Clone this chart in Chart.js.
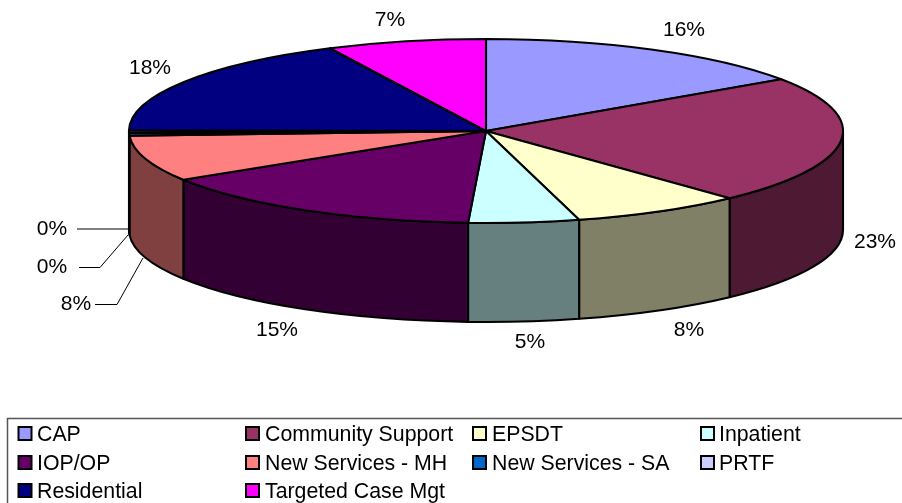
<!DOCTYPE html>
<html><head><meta charset="utf-8">
<style>html,body{margin:0;padding:0;background:#fff;overflow:hidden}canvas{display:block}</style>
<script src="https://cdn.jsdelivr.net/npm/chart.js@4"></script>
</head><body>
<canvas id="c" width="902" height="503"></canvas>
<script>
const categories = ["CAP","Community Support","EPSDT","Inpatient","IOP/OP","New Services - MH","New Services - SA","PRTF","Residential","Targeted Case Mgt"];
const shares = [15.5,22.55,7.75,5.0,15.3,8.1,0.45,0.45,17.7,7.2];
const topColors = ["#9999FF","#993366","#FFFFCC","#CCFFFF","#660066","#FF8080","#0066CC","#CCCCFF","#000080","#FF00FF"];
const sideColors = ["#4D4D80","#4D1933","#808066","#668080","#330033","#804040","#003366","#666680","#000040","#800080"];

const SQUASH = 92/357, DEPTH = 99, FONT = '"Liberation Sans", Arial, sans-serif';
const labelSpots = [[684,30],[875,242],[689,330],[530,342],[277,330],[76,304],[52,267],[52,229],[150,68],[390,20]];
const leaders = {5:[[95,304.5],[117,304.5],[143,258]],6:[[79,267.5],[100,267.5],[128,235]],7:[[77,229],[128,229]]};
const legendCols = [[17.5,37],[245,265],[472,492],[700,719]];
const legendRows = [441,470,498];

const pie3d = {
  id:'pie3d',
  beforeDatasetsDraw(chart){
    const ctx = chart.ctx, arcs = chart.getDatasetMeta(0).data;
    ctx.save();
    ctx.lineWidth = 2.1; ctx.strokeStyle = '#000'; ctx.lineJoin = 'round';
    const shaped = (el, build) => {
      ctx.beginPath(); ctx.save();
      ctx.translate(el.x, el.y); ctx.scale(1, SQUASH);
      build(el.outerRadius); ctx.restore();
    };
    arcs.forEach((el,i)=>{
      const a = Math.max(el.startAngle,0), b = Math.min(el.endAngle,Math.PI);
      if (b <= a) return;
      shaped(el, r=>{ ctx.arc(0,0,r,a,b); ctx.arc(0,DEPTH/SQUASH,r,b,a,true); ctx.closePath(); });
      ctx.fillStyle = sideColors[i]; ctx.fill(); ctx.stroke();
    });
    arcs.forEach((el,i)=>{
      shaped(el, r=>{ ctx.moveTo(0,0); ctx.arc(0,0,r,el.startAngle,el.endAngle); ctx.closePath(); });
      ctx.fillStyle = topColors[i]; ctx.fill(); ctx.stroke();
    });
    ctx.restore();
    return false;
  },
  afterDraw(chart){
    const ctx = chart.ctx, total = shares.reduce((s,v)=>s+v,0);
    ctx.save();
    ctx.strokeStyle = '#000'; ctx.lineWidth = 1;
    Object.values(leaders).forEach(pts=>{
      ctx.beginPath(); pts.forEach((p,i)=> i?ctx.lineTo(p[0],p[1]):ctx.moveTo(p[0],p[1])); ctx.stroke();
    });
    ctx.fillStyle = '#000'; ctx.textAlign='center'; ctx.textBaseline='middle';
    ctx.font = '21px '+FONT;
    shares.forEach((v,i)=> ctx.fillText(Math.round(v/total*100)+'%', labelSpots[i][0], labelSpots[i][1]));
    ctx.strokeStyle = '#555'; ctx.lineWidth = 1.5;
    ctx.beginPath(); ctx.moveTo(7.5,510); ctx.lineTo(7.5,418.5); ctx.lineTo(910,418.5); ctx.stroke();
    ctx.textAlign='left'; ctx.textBaseline='alphabetic'; ctx.font='21.3px '+FONT;
    categories.forEach((name,i)=>{
      const col = legendCols[i%4], base = legendRows[Math.floor(i/4)];
      ctx.fillStyle='#000'; ctx.fillRect(col[0], base-15, 15, 15);
      ctx.fillStyle=topColors[i]; ctx.fillRect(col[0]+2, base-13, 11, 11);
      ctx.fillStyle='#000'; ctx.fillText(name, col[1], base);
    });
    ctx.restore();
  }
};

new Chart(document.getElementById('c'),{
  type:'pie',
  data:{labels:categories,datasets:[{data:shares,backgroundColor:topColors,borderColor:'#000',borderWidth:2}]},
  options:{
    responsive:false,animation:false,radius:357,
    layout:{padding:{left:70,bottom:241}},
    plugins:{legend:{display:false},tooltip:{enabled:false}}
  },
  plugins:[pie3d]
});
</script>
</body></html>
